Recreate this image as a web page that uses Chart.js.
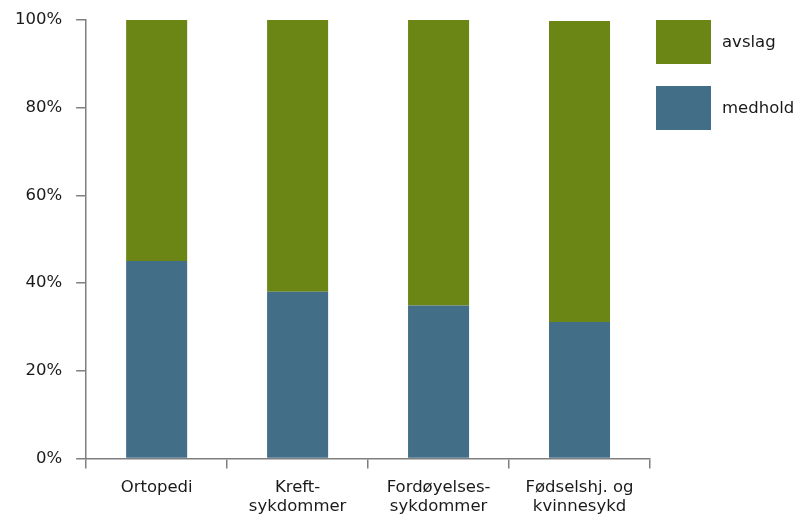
<!DOCTYPE html>
<html>
<head>
<meta charset="utf-8">
<script src="https://cdn.jsdelivr.net/npm/chart.js@4.4.1/dist/chart.umd.min.js"></script>
<style>
  html, body { margin: 0; padding: 0; background: #fff; }
  #wrap { width: 798px; height: 515px; position: relative; }
</style>
</head>
<body>
<div id="wrap"><canvas id="c" width="798" height="515"></canvas></div>
<script>
// Fagområder (x-akse), delt over to linjer der det trengs
const categories = [
  ["Ortopedi"],
  ["Kreft-", "sykdommer"],
  ["Fordøyelses-", "sykdommer"],
  ["Fødselshj. og", "kvinnesykd"]
];
// Andel saker i prosent
const medhold = [45.0, 38.0, 34.9, 31.1];
const avslag = [55.0, 62.0, 65.1, 68.7];
const yTicks = [0, 20, 40, 60, 80, 100];

const axisGrey = '#7f7f7f';
const textColor = '#1a1a1a';
const font = { family: 'DejaVu Sans', size: 16.5, lineHeight: 1.2 };

// Forklaring til høyre: store fargefelt med tekst ved siden av (øverste serie først)
const sideLegend = {
  id: 'sideLegend',
  afterDraw(chart) {
    const ctx = chart.ctx;
    const area = chart.chartArea;
    const x0 = area.right + 6;
    const top = area.top;
    const boxW = 55, boxH = 44, step = 66;
    const sets = chart.data.datasets.slice().reverse();
    ctx.save();
    ctx.font = font.size + 'px "' + font.family + '"';
    ctx.textBaseline = 'middle';
    ctx.textAlign = 'left';
    sets.forEach((ds, i) => {
      const y = top + i * step;
      ctx.fillStyle = ds.backgroundColor;
      ctx.fillRect(x0, y, boxW, boxH);
      ctx.fillStyle = textColor;
      ctx.fillText(ds.label, x0 + boxW + 11, y + boxH / 2 + 1);
    });
    ctx.restore();
  }
};

new Chart(document.getElementById('c'), {
  type: 'bar',
  data: {
    labels: categories,
    datasets: [
      { label: 'medhold', data: medhold, backgroundColor: '#426e88',
        categoryPercentage: 1, barPercentage: 0.433 },
      { label: 'avslag', data: avslag, backgroundColor: '#6b8614',
        categoryPercentage: 1, barPercentage: 0.433 }
    ]
  },
  plugins: [sideLegend],
  options: {
    responsive: false,
    animation: false,
    layout: { padding: { top: 20, left: 1, right: 148, bottom: -11 } },
    plugins: {
      tooltip: { enabled: false },
      legend: { display: false }
    },
    scales: {
      x: {
        stacked: true,
        grid: {
          offset: true,
          drawOnChartArea: false,
          drawTicks: true,
          tickLength: 10,
          color: axisGrey,
          lineWidth: 1.5
        },
        border: { color: axisGrey, width: 1.5 },
        ticks: { color: textColor, font: font, padding: 9, maxRotation: 0 }
      },
      y: {
        stacked: true,
        min: 0,
        max: 100,
        afterBuildTicks: (axis) => { axis.ticks = yTicks.map(v => ({ value: v })); },
        afterFit: (axis) => { axis.paddingTop = 0; axis.paddingBottom = 0; },
        grid: {
          drawOnChartArea: false,
          drawTicks: true,
          tickLength: 10,
          color: axisGrey,
          lineWidth: 1.5
        },
        border: { color: axisGrey, width: 1.5 },
        ticks: {
          color: textColor,
          font: font,
          padding: 14,
          callback: (v) => v + '%'
        }
      }
    }
  }
});
</script>
</body>
</html>
